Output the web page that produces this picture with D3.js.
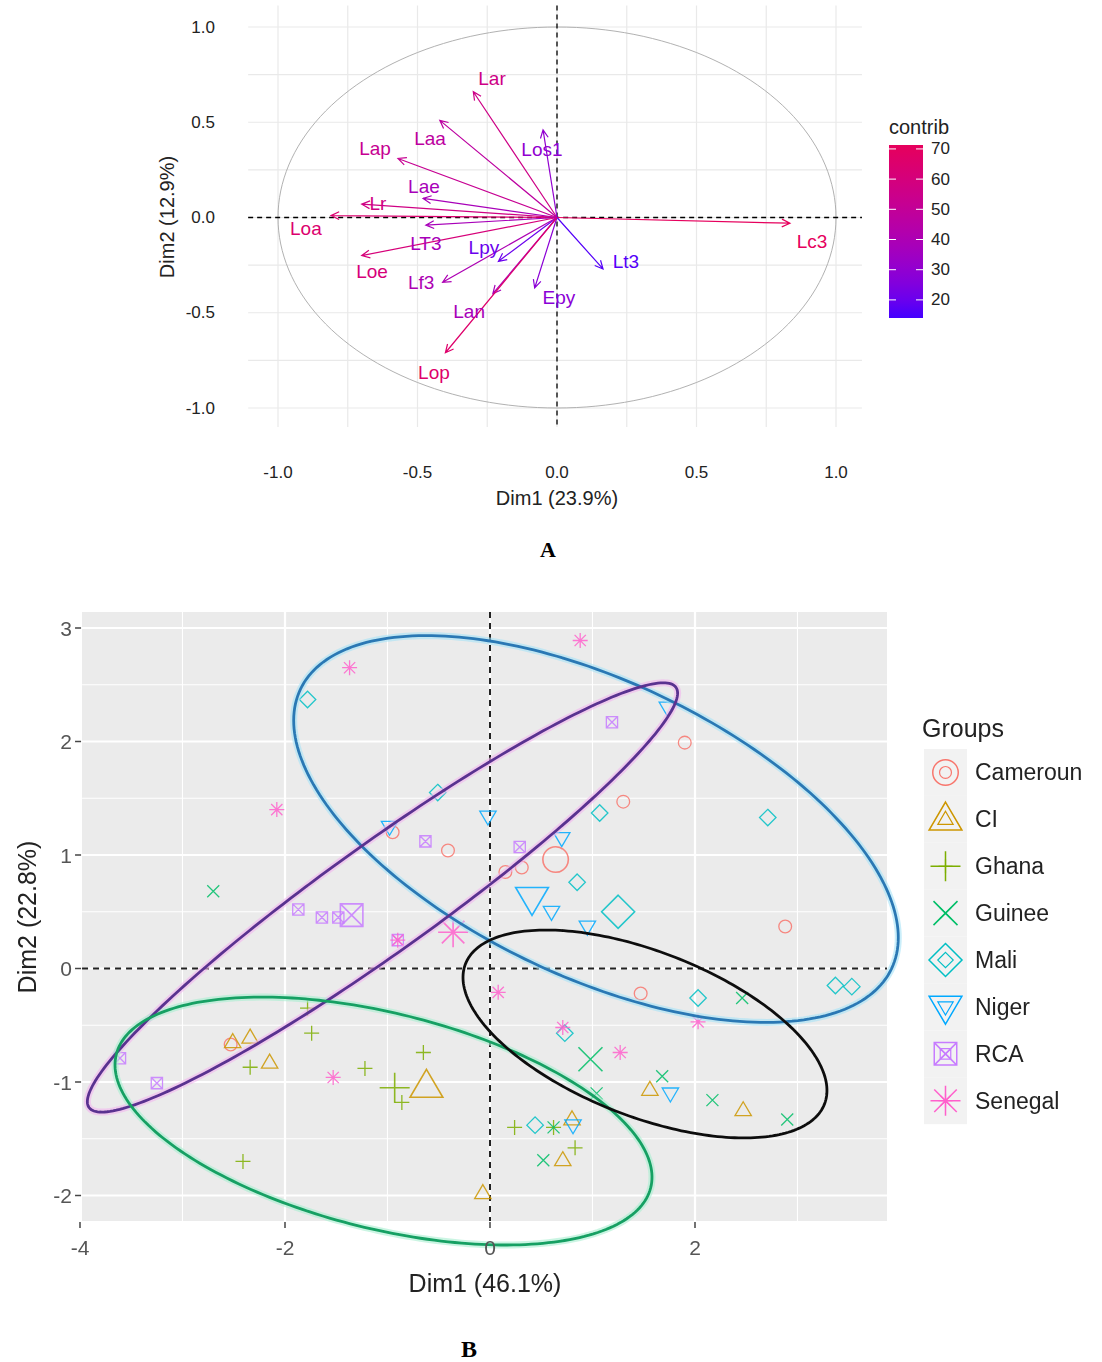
<!DOCTYPE html>
<html>
<head>
<meta charset="utf-8">
<script src="https://cdn.jsdelivr.net/npm/d3@7"></script>
<style>
  html, body { margin: 0; padding: 0; background: #fff; }
  svg { display: block; font-family: "Liberation Sans", Arial, sans-serif; }
</style>
</head>
<body>
<svg id="fig" width="1102" height="1362"></svg>
<script>
// ---------- Panel A: variable correlation circle ----------
const varNames   = ["Lar", "Laa", "Lap", "Lae", "Lr", "Loa", "Los1", "Lc3", "Lt3", "Epy", "LT3", "Loe", "Lpy", "Lf3", "Lan", "Lop"];
const varDim1    = [-0.30, -0.42, -0.57, -0.48, -0.70, -0.81, -0.05, 0.835, 0.165, -0.08, -0.47, -0.70, -0.21, -0.41, -0.23, -0.40];
const varDim2    = [0.66, 0.51, 0.31, 0.10, 0.07, 0.01, 0.46, -0.03, -0.27, -0.37, -0.04, -0.20, -0.23, -0.34, -0.40, -0.71];
const varContrib = [56, 47, 52, 38, 57, 65, 30, 71, 16, 28, 38, 61, 20, 40, 38, 66];
// label anchors (data units)
const labDim1    = [-0.233, -0.455, -0.652, -0.477, -0.642, -0.90, -0.054, 0.914, 0.247, 0.007, -0.47, -0.663, -0.262, -0.487, -0.315, -0.441];
const labDim2    = [0.73, 0.415, 0.362, 0.163, 0.073, -0.058, 0.357, -0.126, -0.231, -0.42, -0.136, -0.283, -0.157, -0.341, -0.493, -0.814];
const axisTicksA = [-1.0, -0.5, 0.0, 0.5, 1.0];
const contribTicks = [20, 30, 40, 50, 60, 70];
const contribRange = [14, 71.3];

// ---------- Panel B: individuals by group ----------
const groups = ["Cameroun", "CI", "Ghana", "Guinee", "Mali", "Niger", "RCA", "Senegal"];
const groupShapes = ["circle", "triangle", "plus", "cross", "diamond", "triangleDown", "squareCross", "asterisk"];
const groupColors = ["#F8766D", "#CD9600", "#7CAE00", "#00BE67", "#00BFC4", "#00A9FF", "#C77CFF", "#FF61CC"];
const camerounPts = [[1.90, 1.99], [1.30, 1.47], [-0.41, 1.04], [-0.95, 1.20], [0.15, 0.85], [0.31, 0.89], [2.88, 0.37], [1.47, -0.22], [-2.53, -0.67]];
const ciPts       = [[-2.51, -0.65], [-2.34, -0.61], [-2.15, -0.83], [-0.07, -1.98], [0.71, -1.69], [1.56, -1.07], [2.47, -1.25], [0.80, -1.33]];
const ghanaPts    = [[-1.78, -0.35], [-1.74, -0.57], [-2.34, -0.87], [-1.22, -0.88], [-0.65, -0.74], [-0.86, -1.18], [-2.41, -1.70], [0.24, -1.40], [0.62, -1.40], [0.83, -1.58]];
const guineePts   = [[-2.70, 0.68], [1.04, -1.10], [1.68, -0.95], [2.17, -1.16], [2.90, -1.33], [2.46, -0.26], [0.52, -1.69], [0.62, -1.40]];
const maliPts     = [[-1.78, 2.37], [-0.51, 1.55], [1.07, 1.37], [0.85, 0.76], [2.71, 1.33], [2.03, -0.26], [3.37, -0.15], [3.53, -0.16], [0.73, -0.57], [0.44, -1.38]];
const nigerPts    = [[1.73, 2.30], [-0.98, 1.25], [-0.02, 1.34], [0.70, 1.15], [0.60, 0.50], [0.95, 0.37], [1.76, -1.10], [0.81, -1.38]];
const rcaPts      = [[1.19, 2.17], [-0.63, 1.12], [0.29, 1.07], [-1.87, 0.52], [-1.64, 0.45], [-1.48, 0.45], [-3.61, -0.79], [-3.25, -1.01], [-0.90, 0.25]];
const senegalPts  = [[0.88, 2.89], [-1.37, 2.65], [-2.08, 1.40], [-0.90, 0.25], [0.08, -0.21], [0.71, -0.52], [1.27, -0.74], [2.03, -0.47], [-1.53, -0.96]];
const groupPoints = [camerounPts, ciPts, ghanaPts, guineePts, maliPts, nigerPts, rcaPts, senegalPts];
const groupMeans  = [[0.64, 0.96], [-0.62, -1.04], [-0.93, -1.05], [0.98, -0.80], [1.25, 0.50], [0.41, 0.62], [-1.35, 0.47], [-0.36, 0.32]];
const xTicksB = [-4, -2, 0, 2];
const yTicksB = [-2, -1, 0, 1, 2, 3];
// cluster ellipses: centre and two conjugate semi-diameters (data units)
const ellCentres = [[1.034, 1.229], [-1.049, 0.626], [-1.039, -1.344], [1.512, -0.577]];
const ellAxisU   = [[2.884, -1.230], [2.863, 1.851], [2.607, -0.587], [1.751, -0.618]];
const ellAxisV   = [[-0.617, -1.179], [0.306, -0.387], [-0.255, -0.921], [-0.293, -0.676]];
const ellColors  = ["#2a78b4", "#5a3290", "#17a063", "#111111"];
const ellHalo    = ["#a6e2f7", "#f2b6ee", "#a8eed0", null];

const svg = d3.select("#fig");
svg.append("rect").attr("width", 1102).attr("height", 1362).attr("fill", "#fff");
const defs = svg.append("defs");
defs.append("filter").attr("id", "soft").attr("x", "-5%").attr("y", "-5%").attr("width", "110%").attr("height", "110%")
  .append("feGaussianBlur").attr("stdDeviation", 0.45);

// ================= Panel A =================
const xA = d3.scaleLinear().domain([-1, 1]).range([278, 836]);
const yA = d3.scaleLinear().domain([-1, 1]).range([408, 27]);
const xAlim = [-1.107, 1.093], yAlim = [-1.10, 1.113];
const gA = svg.append("g");

const gridA = d3.range(-1, 1.0001, 0.25);
gA.selectAll(".gv").data(gridA).join("line")
  .attr("x1", d => xA(d)).attr("x2", d => xA(d))
  .attr("y1", yA(yAlim[1])).attr("y2", yA(yAlim[0]))
  .attr("stroke", "#e9e9e9").attr("stroke-width", 1.2);
gA.selectAll(".gh").data(gridA).join("line")
  .attr("y1", d => yA(d)).attr("y2", d => yA(d))
  .attr("x1", xA(xAlim[0])).attr("x2", xA(xAlim[1]))
  .attr("stroke", "#e9e9e9").attr("stroke-width", 1.2);

// unit circle
const circ = d3.range(0, 361, 2).map(a => [Math.cos(a * Math.PI / 180), Math.sin(a * Math.PI / 180)]);
gA.append("path")
  .attr("d", d3.line().x(d => xA(d[0])).y(d => yA(d[1]))(circ))
  .attr("fill", "none").attr("stroke", "#a8a8a8").attr("stroke-width", 0.9);

// reference axes
gA.append("line").attr("x1", xA(0)).attr("x2", xA(0)).attr("y1", yA(yAlim[1])).attr("y2", yA(yAlim[0]))
  .attr("stroke", "#000").attr("stroke-width", 1.3).attr("stroke-dasharray", "5,4");
gA.append("line").attr("y1", yA(0)).attr("y2", yA(0)).attr("x1", xA(xAlim[0])).attr("x2", xA(xAlim[1]))
  .attr("stroke", "#000").attr("stroke-width", 1.3).attr("stroke-dasharray", "5,4");

const contribColor = d3.scaleLinear().domain(contribRange).range(["#4400ff", "#e6005c"]).interpolate(d3.interpolateLab);

// arrows
const vars = varNames.map((n, i) => ({ n, x: varDim1[i], y: varDim2[i], c: varContrib[i], lx: labDim1[i], ly: labDim2[i] }));
const arrowPath = d => {
  const x0 = xA(0), y0 = yA(0), x1 = xA(d.x), y1 = yA(d.y);
  const ang = Math.atan2(y1 - y0, x1 - x0), L = 9, w = Math.PI / 7;
  const a1 = [x1 - L * Math.cos(ang - w), y1 - L * Math.sin(ang - w)];
  const a2 = [x1 - L * Math.cos(ang + w), y1 - L * Math.sin(ang + w)];
  return `M${x0},${y0}L${x1},${y1}M${a1[0]},${a1[1]}L${x1},${y1}L${a2[0]},${a2[1]}`;
};
gA.selectAll(".arr").data(vars).join("path")
  .attr("d", arrowPath).attr("fill", "none")
  .attr("stroke", d => contribColor(d.c)).attr("stroke-width", 1.2);
gA.selectAll(".lab").data(vars).join("text")
  .attr("x", d => xA(d.lx)).attr("y", d => yA(d.ly))
  .attr("text-anchor", "middle").attr("dominant-baseline", "central")
  .attr("font-size", 19).attr("fill", d => contribColor(d.c)).text(d => d.n);

// axes text
gA.selectAll(".ty").data(axisTicksA).join("text")
  .attr("x", 215).attr("y", d => yA(d)).attr("text-anchor", "end").attr("dominant-baseline", "central")
  .attr("font-size", 17).attr("fill", "#222").text(d => d.toFixed(1));
gA.selectAll(".tx").data(axisTicksA).join("text")
  .attr("x", d => xA(d)).attr("y", 472).attr("text-anchor", "middle").attr("dominant-baseline", "central")
  .attr("font-size", 17).attr("fill", "#222").text(d => d.toFixed(1));
gA.append("text").attr("x", 557).attr("y", 498).attr("text-anchor", "middle").attr("dominant-baseline", "central")
  .attr("font-size", 20).attr("fill", "#222").text("Dim1 (23.9%)");
gA.append("text").attr("transform", "translate(167,217) rotate(-90)").attr("text-anchor", "middle")
  .attr("dominant-baseline", "central").attr("font-size", 20).attr("fill", "#222").text("Dim2 (12.9%)");

// colour bar legend
const barScale = d3.scaleLinear().domain(contribRange).range([318, 145]);
const grad = defs.append("linearGradient").attr("id", "cbar").attr("x1", 0).attr("x2", 0).attr("y1", 1).attr("y2", 0);
d3.range(0, 1.0001, 0.1).forEach(t => {
  grad.append("stop").attr("offset", t).attr("stop-color", contribColor(contribRange[0] + t * (contribRange[1] - contribRange[0])));
});
gA.append("text").attr("x", 889).attr("y", 127).attr("dominant-baseline", "central")
  .attr("font-size", 20).attr("fill", "#222").text("contrib");
gA.append("rect").attr("x", 889).attr("y", barScale(contribRange[1])).attr("width", 34)
  .attr("height", barScale(contribRange[0]) - barScale(contribRange[1])).attr("fill", "url(#cbar)");
contribTicks.forEach(v => {
  gA.append("line").attr("x1", 889).attr("x2", 896).attr("y1", barScale(v)).attr("y2", barScale(v)).attr("stroke", "#fff").attr("stroke-width", 1);
  gA.append("line").attr("x1", 916).attr("x2", 923).attr("y1", barScale(v)).attr("y2", barScale(v)).attr("stroke", "#fff").attr("stroke-width", 1);
});
gA.selectAll(".ct").data(contribTicks).join("text")
  .attr("x", 931).attr("y", d => barScale(d)).attr("dominant-baseline", "central")
  .attr("font-size", 17).attr("fill", "#222").text(d => d);

svg.append("text").attr("x", 548).attr("y", 549).attr("text-anchor", "middle").attr("dominant-baseline", "central")
  .attr("font-family", "'Liberation Serif', 'DejaVu Serif', serif").attr("font-weight", "bold")
  .attr("font-size", 22).attr("fill", "#000").text("A");

// ================= Panel B =================
const xB = d3.scaleLinear().domain([-4, 2]).range([80, 695]);
const yB = d3.scaleLinear().domain([0, 3]).range([968.5, 628]);
const xBlim = [-3.98, 3.873], yBlim = [-2.225, 3.141];
const gB = svg.append("g").attr("filter", "url(#soft)");

gB.append("rect").attr("x", xB(xBlim[0])).attr("y", yB(yBlim[1]))
  .attr("width", xB(xBlim[1]) - xB(xBlim[0])).attr("height", yB(yBlim[0]) - yB(yBlim[1]))
  .attr("fill", "#ebebeb");
// minor grid
gB.selectAll(".mx").data([-3, -1, 1, 3]).join("line")
  .attr("x1", d => xB(d)).attr("x2", d => xB(d)).attr("y1", yB(yBlim[1])).attr("y2", yB(yBlim[0]))
  .attr("stroke", "#fff").attr("stroke-width", 1.1);
gB.selectAll(".my").data([-1.5, -0.5, 0.5, 1.5, 2.5]).join("line")
  .attr("y1", d => yB(d)).attr("y2", d => yB(d)).attr("x1", xB(xBlim[0])).attr("x2", xB(xBlim[1]))
  .attr("stroke", "#fff").attr("stroke-width", 1.1);
// major grid
gB.selectAll(".Mx").data(xTicksB).join("line")
  .attr("x1", d => xB(d)).attr("x2", d => xB(d)).attr("y1", yB(yBlim[1])).attr("y2", yB(yBlim[0]))
  .attr("stroke", "#fff").attr("stroke-width", 2.2);
gB.selectAll(".My").data(yTicksB).join("line")
  .attr("y1", d => yB(d)).attr("y2", d => yB(d)).attr("x1", xB(xBlim[0])).attr("x2", xB(xBlim[1]))
  .attr("stroke", "#fff").attr("stroke-width", 2.2);

// reference axes
gB.append("line").attr("x1", xB(0)).attr("x2", xB(0)).attr("y1", yB(yBlim[1])).attr("y2", yB(yBlim[0]))
  .attr("stroke", "#222").attr("stroke-width", 2).attr("stroke-dasharray", "6,5");
gB.append("line").attr("y1", yB(0)).attr("y2", yB(0)).attr("x1", xB(xBlim[0])).attr("x2", xB(xBlim[1]))
  .attr("stroke", "#222").attr("stroke-width", 2).attr("stroke-dasharray", "6,5");

// shape drawing
function shapePath(type, s) {
  const p = d3.path();
  switch (type) {
    case "circle":
      p.moveTo(s * 0.85, 0); p.arc(0, 0, s * 0.85, 0, Math.PI * 2); break;
    case "triangle": {
      const h = s * 1.15;
      p.moveTo(0, -h); p.lineTo(h * 0.95, h * 0.62); p.lineTo(-h * 0.95, h * 0.62); p.closePath(); break;
    }
    case "triangleDown": {
      const h = s * 1.15;
      p.moveTo(0, h); p.lineTo(h * 0.95, -h * 0.62); p.lineTo(-h * 0.95, -h * 0.62); p.closePath(); break;
    }
    case "plus":
      p.moveTo(-s, 0); p.lineTo(s, 0); p.moveTo(0, -s); p.lineTo(0, s); break;
    case "cross": {
      const c = s * 0.8;
      p.moveTo(-c, -c); p.lineTo(c, c); p.moveTo(-c, c); p.lineTo(c, -c); break;
    }
    case "diamond": {
      const c = s * 1.1;
      p.moveTo(0, -c); p.lineTo(c, 0); p.lineTo(0, c); p.lineTo(-c, 0); p.closePath(); break;
    }
    case "squareCross": {
      const c = s * 0.75;
      p.rect(-c, -c, 2 * c, 2 * c);
      p.moveTo(-c, -c); p.lineTo(c, c); p.moveTo(-c, c); p.lineTo(c, -c); break;
    }
    case "asterisk": {
      const c = s * 0.75;
      p.moveTo(-s, 0); p.lineTo(s, 0); p.moveTo(0, -s); p.lineTo(0, s);
      p.moveTo(-c, -c); p.lineTo(c, c); p.moveTo(-c, c); p.lineTo(c, -c); break;
    }
  }
  return p.toString();
}

// individuals
const indiv = [];
groupPoints.forEach((pts, gi) => pts.forEach(d => indiv.push({ g: gi, x: d[0], y: d[1] })));
gB.selectAll(".pt").data(indiv).join("path")
  .attr("transform", d => `translate(${xB(d.x)},${yB(d.y)})`)
  .attr("d", d => shapePath(groupShapes[d.g], 7.5))
  .attr("fill", "none").attr("stroke", d => groupColors[d.g]).attr("stroke-width", 1.3).attr("opacity", 0.85);
// group centres
const means = groupMeans.map((d, gi) => ({ g: gi, x: d[0], y: d[1] }));
gB.selectAll(".mn").data(means).join("path")
  .attr("transform", d => `translate(${xB(d.x)},${yB(d.y)})`)
  .attr("d", d => shapePath(groupShapes[d.g], 15))
  .attr("fill", "none").attr("stroke", d => groupColors[d.g]).attr("stroke-width", 1.6).attr("opacity", 0.85);

// ellipses
const ellipses = ellCentres.map((c, i) => ({ c, u: ellAxisU[i], v: ellAxisV[i], col: ellColors[i], halo: ellHalo[i] }));
const ellLine = e => d3.line().x(t => xB(e.c[0] + e.u[0] * Math.cos(t) + e.v[0] * Math.sin(t)))
  .y(t => yB(e.c[1] + e.u[1] * Math.cos(t) + e.v[1] * Math.sin(t))).curve(d3.curveLinearClosed)(d3.range(0, 2 * Math.PI, Math.PI / 120));
gB.selectAll(".eh").data(ellipses.filter(e => e.halo)).join("path")
  .attr("d", ellLine).attr("fill", "none").attr("stroke", d => d.halo).attr("stroke-width", 7).attr("opacity", 0.6);
gB.selectAll(".el").data(ellipses).join("path")
  .attr("d", ellLine).attr("fill", "none").attr("stroke", d => d.col).attr("stroke-width", 2.8);

// axes
gB.selectAll(".xt").data(xTicksB).join("line")
  .attr("x1", d => xB(d)).attr("x2", d => xB(d)).attr("y1", yB(yBlim[0]) + 1).attr("y2", yB(yBlim[0]) + 7)
  .attr("stroke", "#444").attr("stroke-width", 1.5);
gB.selectAll(".xl").data(xTicksB).join("text")
  .attr("x", d => xB(d)).attr("y", 1247).attr("text-anchor", "middle").attr("dominant-baseline", "central")
  .attr("font-size", 21).attr("fill", "#555").text(d => d);
gB.selectAll(".yt").data(yTicksB).join("line")
  .attr("y1", d => yB(d)).attr("y2", d => yB(d)).attr("x1", xB(xBlim[0]) - 7).attr("x2", xB(xBlim[0]) - 1)
  .attr("stroke", "#444").attr("stroke-width", 1.5);
gB.selectAll(".yl").data(yTicksB).join("text")
  .attr("x", xB(xBlim[0]) - 10).attr("y", d => yB(d)).attr("text-anchor", "end").attr("dominant-baseline", "central")
  .attr("font-size", 21).attr("fill", "#555").text(d => d);
gB.append("text").attr("x", 485).attr("y", 1283).attr("text-anchor", "middle").attr("dominant-baseline", "central")
  .attr("font-size", 25).attr("fill", "#222").text("Dim1 (46.1%)");
gB.append("text").attr("transform", "translate(27,917) rotate(-90)").attr("text-anchor", "middle")
  .attr("dominant-baseline", "central").attr("font-size", 25).attr("fill", "#222").text("Dim2 (22.8%)");

// legend
const legTop = 749, legStep = 46.9;
gB.append("text").attr("x", 922).attr("y", 728).attr("dominant-baseline", "central")
  .attr("font-size", 25).attr("fill", "#222").text("Groups");
const leg = gB.selectAll(".lg").data(groups).join("g")
  .attr("transform", (d, i) => `translate(924,${legTop + i * legStep})`);
leg.append("rect").attr("width", 43).attr("height", legStep).attr("fill", "#f2f2f2");
leg.append("path").attr("transform", `translate(21.5,${legStep / 2})`)
  .attr("d", (d, i) => shapePath(groupShapes[i], 7)).attr("fill", "none")
  .attr("stroke", (d, i) => groupColors[i]).attr("stroke-width", 1.2);
leg.append("path").attr("transform", `translate(21.5,${legStep / 2})`)
  .attr("d", (d, i) => shapePath(groupShapes[i], 15)).attr("fill", "none")
  .attr("stroke", (d, i) => groupColors[i]).attr("stroke-width", 1.5);
leg.append("text").attr("x", 51).attr("y", legStep / 2).attr("dominant-baseline", "central")
  .attr("font-size", 23).attr("fill", "#222").text(d => d);

svg.append("text").attr("x", 469).attr("y", 1349).attr("text-anchor", "middle").attr("dominant-baseline", "central")
  .attr("font-family", "'Liberation Serif', 'DejaVu Serif', serif").attr("font-weight", "bold")
  .attr("font-size", 24).attr("fill", "#000").text("B");
</script>
</body>
</html>
